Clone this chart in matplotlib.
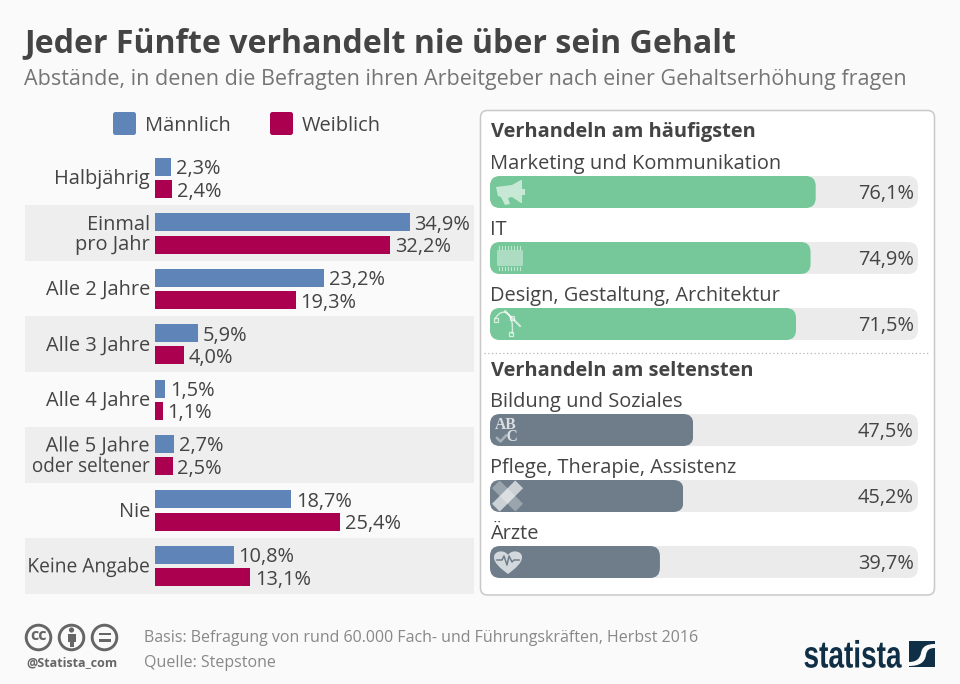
import matplotlib
matplotlib.use("Agg")
import matplotlib.pyplot as plt
import numpy as np
from matplotlib.patches import FancyBboxPatch, Rectangle, Circle, Polygon, PathPatch
from matplotlib.path import Path
from matplotlib.patheffects import AbstractPathEffect
from matplotlib.transforms import Affine2D

# ---------- data ----------
categories = ["Halbjährig", "Einmal\npro Jahr", "Alle 2 Jahre", "Alle 3 Jahre",
              "Alle 4 Jahre", "Alle 5 Jahre\noder seltener", "Nie", "Keine Angabe"]
male = [2.3, 34.9, 23.2, 5.9, 1.5, 2.7, 18.7, 10.8]
female = [2.4, 32.2, 19.3, 4.0, 1.1, 2.5, 25.4, 13.1]
top_labels = ["Marketing und Kommunikation", "IT", "Design, Gestaltung, Architektur"]
top_values = [76.1, 74.9, 71.5]
low_labels = ["Bildung und Soziales", "Pflege, Therapie, Assistenz", "Ärzte"]
low_values = [47.5, 45.2, 39.7]

# ---------- style ----------
plt.rcParams["font.family"] = ["Open Sans", "DejaVu Sans"]
W, H = 960, 684
BG, BAND, TRACK = "#fafafa", "#eeeeee", "#ebebeb"
BLUE, RED, GREEN, SLATE = "#5f85b8", "#ab004f", "#76c89a", "#6f7d8b"
DARK, MID, LIGHT, NAVY = "#444444", "#757575", "#888888", "#0f2f47"
PX = 72 / 100  # points per pixel at dpi 100


def fs(px):
    return px * PX


class Squeeze(AbstractPathEffect):
    """Narrow real text horizontally about a display x; one factor per text line."""

    def __init__(self, x0, factors):
        super().__init__()
        self.x0, self.factors, self.n = x0, factors, 0

    def draw_path(self, renderer, gc, tpath, affine, rgbFace=None):
        sx = self.factors[self.n % len(self.factors)]
        self.n += 1
        t = affine + Affine2D().translate(-self.x0, 0).scale(sx, 1).translate(self.x0, 0)
        renderer.draw_path(gc, tpath, t, rgbFace)


fig = plt.figure(figsize=(W / 100, H / 100), dpi=100, facecolor=BG)


def px_axes(x0, y0, x1, y1, z):
    a = fig.add_axes([x0 / W, 1 - y1 / H, (x1 - x0) / W, (y1 - y0) / H], zorder=z)
    a.patch.set_alpha(0)
    return a


# pixel-space canvases for furniture and icons
bg = px_axes(0, 0, W, H, 0)
bg.set_xlim(0, W)
bg.set_ylim(H, 0)
bg.axis("off")
top = px_axes(0, 0, W, H, 5)
top.set_xlim(0, W)
top.set_ylim(H, 0)
top.axis("off")

# titles
bg.text(24, 44, "Jeder Fünfte verhandelt nie über sein Gehalt", fontsize=fs(32.1),
        fontweight="bold", color=DARK, va="center", ha="left")
bg.text(24, 80, "Abstände, in denen die Befragten ihren Arbeitgeber nach einer Gehaltserhöhung fragen",
        fontsize=fs(21.5), color=MID, va="center", ha="left")

# legend
for x, c, t in [(113, BLUE, "Männlich"), (270, RED, "Weiblich")]:
    bg.add_patch(FancyBboxPatch((x, 112), 23, 23, boxstyle="round,pad=0,rounding_size=2.5",
                                fc=c, ec="none"))
    bg.text(x + 32, 126, t, fontsize=fs(20), color=DARK, va="center", ha="left")

# grey bands
row_px = 55.43
for i in range(1, len(categories), 2):
    cy = 178 + row_px * i
    bg.add_patch(Rectangle((25, cy - 28), 449, 56, fc=BAND, ec="none"))

# ---------- left bars ----------
left_x0 = 154.5
ppu = 7.32
ax = px_axes(left_x0, 178 - row_px / 2, 474, 178 + row_px * 7.5, 2)
ax.set_xlim(0, (474 - left_x0) / ppu)
ax.set_ylim(len(categories) - 0.5, -0.5)
for s in ax.spines.values():
    s.set_visible(False)
ax.set_xticks([])
y = np.arange(len(categories))
off, hgt = 11.2 / row_px, 18 / row_px
ax.barh(y - off, male, height=hgt, color=BLUE)
ax.barh(y + off, female, height=hgt, color=RED)
ax.set_yticks(y, categories)
ax.tick_params(axis="y", length=0, pad=4.5 * PX, labelsize=fs(20), labelcolor=DARK)
label_squeeze = {"Alle 5 Jahre\noder seltener": (1.0, 0.945), "Keine Angabe": (0.96,)}
for lab in ax.get_yticklabels():
    lab.set_linespacing(1.03)
    lab.set_ha("right")
    lab.set_va("center_baseline")
    lab.set_multialignment("right")
    lab.set_transform(lab.get_transform() + Affine2D().translate(0, 1.2))
    if lab.get_text() in label_squeeze:
        lab.set_path_effects([Squeeze(left_x0 - 4.5, label_squeeze[lab.get_text()])])
for vals, sign in [(male, -1), (female, 1)]:
    for i, v in enumerate(vals):
        ax.annotate(f"{v:.1f}%".replace(".", ","), (v, i + sign * off), xytext=(4.5 * PX, 0),
                    textcoords="offset points", va="center_baseline", ha="left",
                    fontsize=fs(20), color=DARK)

# ---------- right panel ----------
bg.add_patch(FancyBboxPatch((480.5, 110.5), 454, 484.5, boxstyle="round,pad=0,rounding_size=7",
                            fc="white", ec="#c9c9c9", lw=1.1))
bg.plot([484, 930], [352.5, 352.5], color="#b5b5b5", lw=0.9, ls=(0, (1, 2)))

rx0, rx1, ry0, ry1 = 490, 918, 176, 578
rax = px_axes(rx0, ry0, rx1, ry1, 3)
rax.set_xlim(0, 100)
rax.set_ylim(ry1 - ry0, 0)
rax.axis("off")
aspect = (rx1 - rx0) / 100
radius = 10 / aspect
bar_h = 32
group_rows = [(top_labels, top_values, GREEN, 16, "Verhandeln am häufigsten", 132),
              (low_labels, low_values, SLATE, 254, "Verhandeln am seltensten", 371)]
for labels, values, color, first, heading, head_y in group_rows:
    bg.text(491, head_y, heading, fontsize=fs(20), fontweight="bold", color=DARK,
            va="center", ha="left")
    centers = [first + 66 * k for k in range(len(values))]
    tracks = rax.barh(centers, [100] * len(values), height=bar_h, color=TRACK, zorder=1)
    bars = rax.barh(centers, values, height=bar_h, color=color, zorder=2)
    for k, (bar, v) in enumerate(zip(bars, values)):
        cy = centers[k]
        for target, wid in ((tracks[k], 100), (bar, v)):
            clip = FancyBboxPatch((0, cy - bar_h / 2), wid, bar_h,
                                  boxstyle=f"round,pad=0,rounding_size={radius}",
                                  mutation_aspect=aspect, transform=rax.transData)
            target.set_clip_path(clip)
        rax.text(99, cy, f"{v:.1f}%".replace(".", ","), fontsize=fs(20), color=DARK,
                 va="center_baseline", ha="right", zorder=3)
        rax.annotate(labels[k], (0, cy - 28), xytext=(0, 0), textcoords="offset points",
                     fontsize=fs(20), color=DARK, va="center", ha="left", annotation_clip=False)

# ---------- icons (decoration) ----------
w = "white"
# megaphone
top.add_patch(Polygon([(496, 187), (512, 185), (521, 180), (522, 180), (522, 203), (521, 203),
                       (512, 197), (508, 198), (510, 204), (505, 205), (501, 197), (498, 196)],
                      closed=True, fc=w, alpha=.6, ec="none"))
top.add_patch(Rectangle((522, 188.5), 3, 6, fc=w, alpha=.6, ec="none"))
# chip
top.add_patch(FancyBboxPatch((497, 250), 26, 16, boxstyle="round,pad=0,rounding_size=1.5", fc=w,
                             alpha=.4, ec="none"))
for xx in np.arange(499, 522, 3):
    top.plot([xx, xx], [246, 249], color=w, alpha=.55, lw=.8)
    top.plot([xx, xx], [267, 270], color=w, alpha=.55, lw=.8)
# bezier
top.add_patch(PathPatch(Path([(495, 319), (502, 306), (515, 312), (512, 334)],
                             [Path.MOVETO, Path.CURVE4, Path.CURVE4, Path.CURVE4]),
                        fc="none", ec=w, alpha=.7, lw=1))
top.plot([505, 520], [311, 326], color=w, alpha=.7, lw=1.4)
for (xx, yy) in [(496, 320), (511, 334), (512, 318)]:
    top.add_patch(Rectangle((xx - 2, yy - 2), 4, 4, fc="none", ec=w, alpha=.7, lw=.9))
# ABC
top.text(495, 431, "AB\n   C", family="Liberation Serif", fontweight="bold", fontsize=fs(15.5), color=w,
         alpha=.75, ha="left", va="center", linespacing=0.65)
top.plot([497, 500.5, 506], [438, 441.5, 435.5], color=w, alpha=.4, lw=1.8)
# bandage


def diag(cx, cy, lng, wid, ang, alpha):
    t = np.radians(ang)
    u, v = np.array([np.cos(t), np.sin(t)]), np.array([-np.sin(t), np.cos(t)])
    c = np.array([cx, cy])
    pts = [c + u * a * lng / 2 + v * b * wid / 2 for a, b in [(-1, -1), (1, -1), (1, 1), (-1, 1)]]
    top.add_patch(Polygon(pts, closed=True, fc=w, alpha=alpha, ec="none"))


diag(507.5, 496, 33, 11, 45, .3)
diag(507.5, 496, 33, 11, -45, .65)
# heart
top.add_patch(PathPatch(Path([(508, 574), (500, 568), (494, 563), (494, 557), (494, 551), (504, 549),
                              (508, 555), (512, 549), (522, 551), (522, 557), (522, 563), (516, 568),
                              (508, 574)],
                             [Path.MOVETO] + [Path.CURVE4] * 12), fc=w, alpha=.7, ec="none"))
top.plot([497, 502, 504, 507, 509, 512, 514, 519], [560, 560, 556, 565, 556, 562, 560, 560],
         color=SLATE, lw=1.1)

# ---------- footer ----------
ICON = "#666666"
for cx in (38.5, 71.5, 104.5):
    bg.add_patch(Circle((cx, 637.5), 12.3, fc="none", ec=ICON, lw=2.1))
bg.text(38.5, 636.5, "cc", fontsize=fs(16), fontweight="bold", color=ICON, ha="center", va="center")
bg.add_patch(Circle((71.5, 630), 2.6, fc=ICON, ec="none"))
bg.add_patch(Rectangle((67.5, 633.5), 8, 8, fc=ICON, ec="none"))
bg.add_patch(Rectangle((69.5, 641), 4, 6, fc=ICON, ec="none"))
bg.add_patch(Rectangle((98.5, 632.5), 12, 2.8, fc=ICON, ec="none"))
bg.add_patch(Rectangle((98.5, 638.8), 12, 2.8, fc=ICON, ec="none"))
bg.text(26, 663, "@Statista_com", fontsize=fs(12.5), fontweight="bold", color=ICON, va="center", ha="left")
bg.text(143.5, 637.5, "Basis: Befragung von rund 60.000 Fach- und Führungskräften, Herbst 2016",
        fontsize=fs(16), color=LIGHT, va="center", ha="left")
bg.text(143.5, 663, "Quelle: Stepstone", fontsize=fs(16), color=LIGHT, va="center", ha="left")

# logo
logo = bg.text(803.5, 667.5, "statista", family="Liberation Sans", fontweight="bold",
               fontsize=fs(38), color=NAVY, va="baseline", ha="left")
logo.set_path_effects([Squeeze(803.5, (98 / 133,))])
bg.add_patch(Rectangle((909, 641), 26, 26, fc=NAVY, ec="none"))
bg.add_patch(PathPatch(Path([(909, 662), (917, 662), (920, 658), (921, 653), (922, 647), (926, 644), (935, 644),
                             (935, 648), (929, 648), (927, 650), (926, 655), (925, 662), (920, 666), (909, 666),
                             (909, 662)],
                            [Path.MOVETO] + [Path.CURVE4] * 6 + [Path.LINETO] + [Path.CURVE4] * 6 + [Path.LINETO]),
                       fc=BG, ec="none"))

fig.savefig("out.png", dpi=100, facecolor=BG)
